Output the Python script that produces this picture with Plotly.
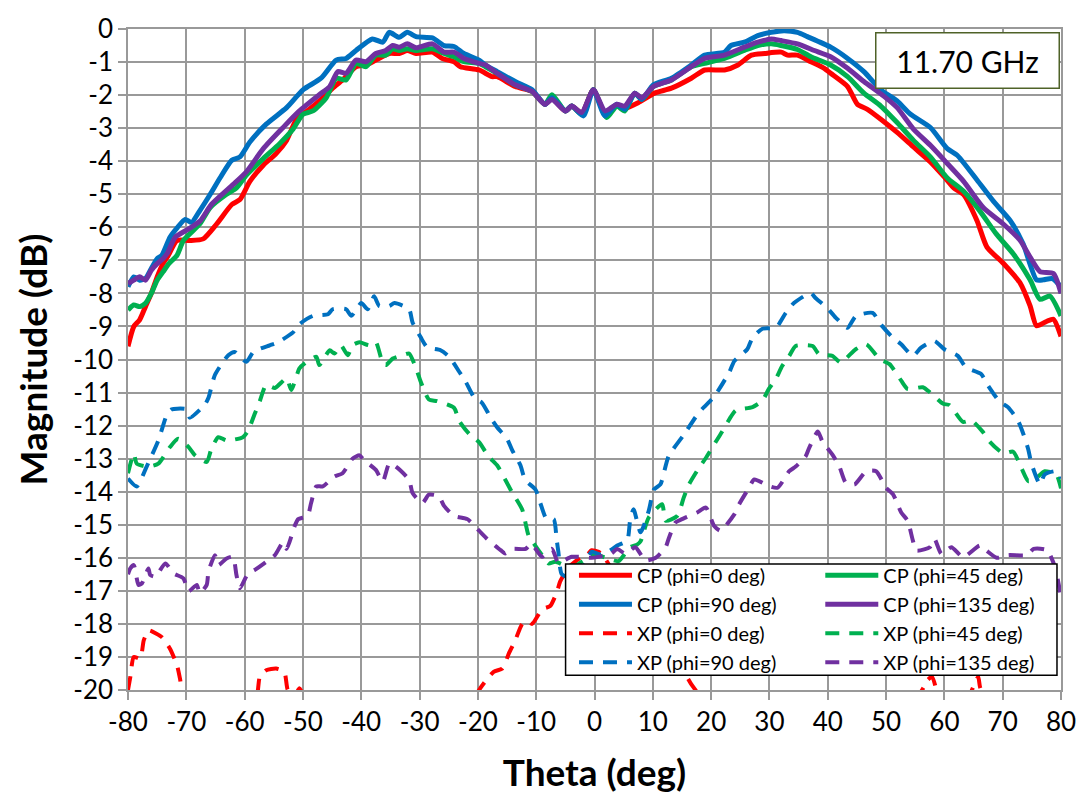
import plotly.graph_objects as go

# ---- measured radiation pattern cuts at 11.70 GHz (theta in deg, magnitude in dB) ----
cp0_theta = [-80, -79, -78, -77, -76, -75, -74, -73.1, -71.6, -69.4, -67.1, -64.8, -62.2, -60.8, -59.1,
             -56.8, -54.6, -52.8, -51.1, -48.9, -46.6, -44.9, -43.2, -40.9, -39.2, -37.5, -35.2, -33.5,
             -32.1, -30.6, -27.8, -26.1, -24.1, -23.0, -19.8, -17.6, -16.7, -13.6, -10.7, -8.5, -7.3,
             -5.0, -3.9, -2.2, -0.2, 1.8, 3.8, 5.2, 7.5, 10.3, 13.2, 16.6, 18.9, 22.3, 24.6, 26.9, 29.2,
             32.0, 33.1, 34.8, 37.1, 39.4, 40.5, 43.4, 45.1, 46.8, 49.1, 51.9, 54.7, 57.6, 59.9, 61.6,
             63.3, 65.6, 67.3, 70.1, 73.0, 74.7, 75.8, 77.5, 78.7, 80]
cp0_mag = [-9.6, -9.0, -8.8, -8.4, -8.0, -7.5, -7.1, -6.85, -6.4, -6.4, -6.35, -5.9, -5.31, -5.16, -4.61,
           -4.12, -3.77, -3.37, -2.73, -2.43, -2.08, -1.79, -1.54, -1.14, -1.09, -0.94, -0.74, -0.74,
           -0.65, -0.74, -0.70, -0.89, -0.99, -1.14, -1.24, -1.44, -1.44, -1.74, -1.89, -2.28, -2.10,
           -2.48, -2.33, -2.55, -1.84, -2.55, -2.30, -2.40, -2.23, -1.94, -1.79, -1.49, -1.24, -1.24,
           -1.09, -0.79, -0.74, -0.70, -0.79, -0.79, -0.99, -1.19, -1.34, -1.74, -2.28, -2.43, -2.73,
           -3.13, -3.57, -4.02, -4.46, -4.81, -5.01, -5.80, -6.60, -7.09, -7.69, -8.38, -8.98, -8.85,
           -8.78, -9.3]

cp45_theta = [-80, -79, -78, -77, -76, -75, -74, -73, -71.6, -70.5, -67.7, -65.9, -63.1, -61.4, -59.7,
              -56.8, -54.0, -51.7, -50.0, -48.3, -46.0, -44.3, -42.6, -40.9, -39.2, -37.5, -35.8, -34.6,
              -33.5, -32.1, -30.6, -27.8, -25.8, -24.1, -22.4, -19.8, -18.7, -16.7, -13.6, -10.7, -8.5,
              -7.3, -5.0, -3.9, -2.2, -0.2, 2.1, 3.8, 5.2, 6.9, 8.1, 10.1, 13.2, 16.6, 18.9, 22.3, 25.7,
              28.0, 30.3, 32.0, 34.8, 37.1, 40.5, 43.4, 46.2, 49.1, 51.9, 54.7, 57.6, 60.5, 63.3, 66.1,
              68.9, 71.8, 74.7, 76.4, 78.1, 80]
cp45_mag = [-8.5, -8.35, -8.4, -8.3, -8.0, -7.6, -7.35, -7.1, -6.85, -6.4, -5.9, -5.4, -5.0, -4.81, -4.42,
            -3.92, -3.47, -3.03, -2.58, -2.48, -2.08, -1.49, -1.54, -1.04, -1.14, -0.79, -0.79, -0.60,
            -0.65, -0.60, -0.65, -0.60, -0.74, -0.84, -0.99, -1.04, -1.14, -1.34, -1.69, -1.89, -2.28,
            -1.99, -2.48, -2.33, -2.58, -1.84, -2.68, -2.33, -2.48, -1.94, -2.13, -1.74, -1.54, -1.14,
            -1.04, -0.89, -0.65, -0.50, -0.45, -0.50, -0.62, -0.84, -1.09, -1.44, -1.94, -2.33, -2.83,
            -3.37, -3.87, -4.51, -4.91, -5.51, -6.20, -6.80, -7.59, -8.18, -8.08, -8.68]

cp90_theta = [-80, -79, -78, -77, -76, -75, -74.2, -72.8, -71.5, -70.2, -69.1, -67.7, -65.9, -64.2, -62.2,
              -60.8, -59.1, -56.3, -52.8, -50.0, -46.9, -44.3, -42.6, -40.9, -38.1, -36.3, -35.2, -33.5,
              -32.1, -30.6, -27.8, -25.8, -24.1, -22.4, -19.8, -18.7, -16.7, -13.6, -10.7, -8.5, -7.3,
              -5.0, -3.9, -1.9, -0.2, 1.8, 3.8, 5.2, 6.9, 8.1, 10.1, 13.2, 16.6, 18.9, 22.3, 23.4, 25.7,
              28.0, 30.3, 32.5, 34.8, 36.5, 40.5, 43.4, 46.2, 49.1, 51.9, 54.2, 57.6, 60.5, 62.2, 65.6,
              68.4, 71.3, 73.5, 75.8, 77.0, 78.5, 80]
cp90_mag = [-7.8, -7.5, -7.6, -7.55, -7.25, -6.95, -6.85, -6.3, -6.0, -5.76, -5.85, -5.5, -5.0, -4.5, -3.97,
            -3.87, -3.42, -2.88, -2.38, -1.84, -1.49, -0.94, -0.89, -0.65, -0.30, -0.40, -0.10, -0.25,
            -0.10, -0.23, -0.27, -0.50, -0.53, -0.74, -0.94, -1.09, -1.29, -1.59, -1.84, -2.28, -2.08,
            -2.48, -2.33, -2.63, -1.84, -2.63, -2.28, -2.43, -1.94, -2.13, -1.69, -1.49, -1.09, -0.79,
            -0.70, -0.50, -0.40, -0.20, -0.10, -0.05, -0.10, -0.23, -0.55, -0.89, -1.29, -1.84, -2.18,
            -2.58, -2.98, -3.62, -3.82, -4.57, -5.21, -5.80, -6.50, -7.59, -7.59, -7.55, -7.8]

cp135_theta = [-80, -79, -78, -77, -76, -75, -74, -73.3, -71.9, -69.6, -67.6, -65.7, -62.0, -59.7, -56.8,
               -53.4, -50.6, -47.2, -45.4, -44.0, -42.6, -40.9, -39.2, -37.5, -35.8, -34.6, -33.5, -32.1,
               -30.6, -27.8, -25.8, -24.1, -22.4, -19.8, -18.7, -16.7, -13.6, -10.7, -8.5, -7.3, -5.0,
               -3.9, -2.2, -0.2, 1.8, 3.8, 5.2, 6.9, 8.1, 10.1, 13.2, 16.6, 18.9, 22.3, 25.7, 28.0, 30.3,
               32.0, 34.8, 37.7, 40.5, 43.4, 46.2, 49.6, 51.9, 54.7, 57.6, 60.5, 63.3, 66.7, 70.1, 73.0,
               74.7, 76.4, 78.7, 80]
cp135_mag = [-7.7, -7.6, -7.5, -7.6, -7.3, -7.1, -6.95, -6.8, -6.3, -6.05, -5.8, -5.31, -4.71, -4.32, -3.62,
             -2.98, -2.48, -1.99, -1.74, -1.29, -1.34, -0.94, -0.99, -0.74, -0.65, -0.50, -0.55, -0.45,
             -0.57, -0.45, -0.70, -0.70, -0.89, -1.04, -1.09, -1.34, -1.69, -1.89, -2.28, -2.13, -2.48,
             -2.33, -2.53, -1.84, -2.48, -2.28, -2.33, -1.94, -2.08, -1.74, -1.54, -1.14, -0.89, -0.79,
             -0.55, -0.40, -0.30, -0.35, -0.45, -0.65, -0.84, -1.19, -1.59, -2.03, -2.38, -3.03, -3.52,
             -4.07, -4.61, -5.41, -5.90, -6.40, -6.90, -7.34, -7.40, -8.0]

xp0_theta = [-80, -79.6, -79.0, -77.9, -77.3, -76.5, -76.2, -74.2, -72.8, -71.6, -71.1, -70.5, -68, -65,
             -62, -61.1, -60, -58, -57.4, -56.3, -54.6, -53.7, -53.1, -52.6, -51.5, -50.6, -49.5, -45,
             -40, -35, -30, -25, -21, -19.8, -17.3, -15.8, -14.7, -13.6, -12.4, -11.6, -10.7, -9.0, -7.6,
             -6.4, -5.9, -4.5, -3.2, -2.2, -1.3, -0.5, 0.7, 1.8, 3.5, 5.5, 7.5, 9.5, 11.5, 13.5, 15.5,
             16.5, 17.5, 18.5, 20, 25, 30, 35, 40, 45, 50, 54, 55.5, 56.5, 57.1, 57.9, 58.8, 60, 62, 64,
             65.2, 65.8, 66.1, 67, 70, 75, 80]
xp0_mag = [-20.0, -19.6, -19.0, -19.05, -18.5, -18.2, -18.2, -18.4, -18.75, -19.25, -19.64, -20.2, -20.8,
           -21.0, -20.6, -20.0, -20.3, -20.2, -19.6, -19.4, -19.35, -19.4, -19.5, -20.0, -20.2, -19.95,
           -20.3, -21.0, -21.0, -21.0, -21.0, -21.0, -20.4, -20.0, -19.45, -19.35, -18.90, -18.50, -18.0,
           -17.91, -18.0, -17.56, -17.46, -17.01, -16.72, -16.3, -16.1, -15.97, -15.92, -15.77, -15.82,
           -16.02, -16.5, -17.0, -17.4, -17.9, -18.4, -18.9, -19.5, -19.8, -20.05, -20.4, -21.0, -21.0,
           -21.0, -21.0, -21.0, -21.0, -21.0, -20.6, -20.2, -19.9, -19.7, -19.6, -20.1, -20.5, -20.8,
           -20.3, -19.8, -19.6, -19.9, -20.3, -21.0, -21.0, -21.0]

xp45_theta = [-80, -79, -78.5, -76.5, -74.8, -72.8, -71.4, -69.6, -68.5, -66.5, -65.7, -64.5, -63.1, -60.3,
              -59.4, -58.3, -57.4, -56.3, -54.8, -52.8, -52.0, -50.6, -49.7, -47.7, -47.2, -45.4, -44.6,
              -43.5, -42.3, -41.5, -40.3, -38.6, -37.5, -36.3, -35.8, -34.6, -32.9, -31.8, -30.6, -29.8,
              -28.4, -27.0, -24.1, -23.2, -21.5, -19.8, -18.1, -16.7, -15.3, -14.2, -12.4, -11.3, -10.4,
              -9.0, -7.9, -6.7, -4, -2, 0, 2, 4.1, 6.1, 7.3, 7.9, 8.5, 9.3, 11.6, 12.2, 14.2, 15.3, 16.2,
              17.9, 19.1, 20.8, 21.9, 23.4, 24.2, 27.1, 28.8, 29.9, 31.1, 32.2, 33.4, 34.5, 37.4, 38.5,
              40.8, 42.2, 44.8, 46.6, 48.9, 50.6, 52.6, 53.7, 56.3, 57.5, 59.8, 60.9, 63.2, 64.6, 66.6,
              67.8, 70.1, 71.8, 73.2, 74.4, 75.8, 77.2, 79.2, 80]
xp45_mag = [-13.44, -12.85, -13.15, -13.24, -13.15, -12.65, -12.40, -12.65, -12.90, -13.10, -12.70, -12.35,
            -12.45, -12.35, -12.15, -11.66, -11.26, -10.77, -10.86, -10.57, -10.92, -10.27, -10.12, -9.92,
            -10.17, -9.72, -9.82, -9.57, -9.87, -9.57, -9.48, -9.57, -9.48, -10.12, -10.17, -9.97, -9.87,
            -9.82, -10.27, -10.67, -11.21, -11.26, -11.46, -11.86, -12.25, -12.50, -12.95, -13.20, -13.64,
            -14.0, -14.54, -15.33, -15.57, -15.92, -16.17, -16.12, -16.3, -16.1, -15.9, -16.0, -16.1,
            -15.68, -15.6, -15.5, -15.18, -14.78, -14.38, -14.88, -14.73, -14.18, -13.78, -13.28, -12.98,
            -12.49, -12.18, -11.73, -11.54, -11.44, -11.24, -10.89, -10.59, -10.19, -9.89, -9.59, -9.59,
            -9.84, -9.89, -10.09, -9.69, -9.54, -9.99, -10.14, -10.64, -10.89, -10.84, -10.99, -11.34,
            -11.38, -11.89, -11.84, -12.19, -12.49, -12.84, -12.79, -13.28, -13.68, -13.58, -13.38, -13.48,
            -13.9]

xp90_theta = [-80, -78.5, -76.8, -74.8, -73.3, -72.5, -69.9, -69.4, -66.8, -66.2, -65.1, -62.8, -61.7, -59.7,
              -58.5, -55.7, -54.3, -51.7, -50.6, -48.3, -45.7, -44.9, -42.6, -41.7, -40.0, -38.9, -37.8,
              -36.9, -35.2, -34.3, -31.8, -31.2, -29.8, -28.7, -26.4, -24.9, -23.2, -22.1, -20.6, -19.3,
              -17.8, -16.7, -15.0, -14.1, -12.7, -11.9, -10.1, -9.3, -8.2, -7.0, -6.5, -6.2, -5.6, -4, -2,
              -0.5, 1, 2.5, 3.9, 5.6, 6.1, 6.7, 7.9, 9.3, 10.2, 11.3, 12.7, 15.3, 17.6, 18.5, 20.2, 21.4,
              23.1, 24.0, 26.2, 27.1, 28.8, 31.1, 32.8, 34.2, 37.1, 37.9, 39.9, 41.4, 43.4, 44.8, 47.7,
              49.1, 50.9, 52.6, 54.6, 56.0, 58.3, 60.0, 62.3, 63.7, 66.3, 67.5, 69.5, 70.9, 72.6, 73.5,
              74.4, 74.9, 76.4, 77.2, 79.2, 80]
xp90_mag = [-13.6, -13.84, -13.24, -12.45, -11.66, -11.51, -11.51, -11.76, -11.36, -11.16, -10.47, -9.87,
            -9.77, -10.07, -9.77, -9.57, -9.48, -9.18, -8.93, -8.68, -8.63, -8.48, -8.48, -8.68, -8.29,
            -8.48, -8.09, -8.38, -8.38, -8.29, -8.48, -8.88, -9.33, -9.63, -9.72, -9.92, -10.37, -10.67,
            -11.16, -11.31, -11.76, -12.05, -12.40, -12.75, -13.20, -13.64, -13.94, -14.34, -14.83, -14.83,
            -15.43, -15.82, -16.5, -16.6, -16.3, -15.82, -15.9, -15.8, -15.63, -15.48, -14.88, -14.53,
            -15.23, -14.58, -13.93, -13.78, -12.93, -12.28, -11.68, -11.49, -11.19, -10.89, -10.39, -10.04,
            -9.69, -9.34, -9.07, -9.04, -8.59, -8.29, -7.99, -8.14, -8.44, -8.74, -9.04, -8.69, -8.59,
            -8.94, -9.29, -9.54, -9.89, -9.64, -9.44, -9.69, -9.89, -10.24, -10.44, -10.79, -11.28, -11.44,
            -11.84, -12.23, -12.73, -13.13, -13.78, -13.48, -13.38, -13.6]

xp135_theta = [-80, -79.6, -79.0, -78.2, -77.6, -76.5, -76.2, -75.3, -73.6, -72.2, -70.5, -69.6, -68.2,
               -67.7, -66.5, -66.2, -65.1, -64.5, -63.1, -62.0, -61.4, -60.8, -59.4, -58.3, -56.3, -54.8,
               -53.4, -52.8, -51.4, -50.8, -49.2, -48.6, -47.7, -46.6, -44.6, -43.2, -41.5, -40.3, -39.5,
               -37.5, -36.3, -35.2, -34.1, -31.8, -31.2, -29.5, -28.4, -26.7, -25.8, -24.1, -21.8, -19.8,
               -18.4, -16.1, -15.3, -14.1, -11.8, -10.9, -10.1, -9.0, -7.3, -6.2, -3.9, -0.5, 0.4, 2.9,
               3.9, 5.3, 7.0, 8.7, 10.5, 12.2, 12.7, 13.9, 15.0, 17.6, 19.1, 20.5, 21.6, 24.0, 24.8, 26.5,
               27.4, 29.9, 31.4, 33.4, 34.5, 36.2, 36.8, 38.3, 39.1, 40.8, 42.0, 43.1, 44.6, 46.6, 48.3,
               50.0, 51.2, 52.6, 53.7, 54.6, 55.2, 57.5, 58.3, 59.5, 61.2, 63.2, 66.1, 67.2, 69, 71.0,
               74.2, 75.3, 77.6, 79, 80]
xp135_mag = [-16.5, -16.32, -16.22, -16.82, -16.77, -16.32, -16.52, -16.57, -16.17, -16.47, -16.62, -17.01,
             -16.82, -17.07, -16.82, -16.42, -15.92, -16.22, -16.02, -15.97, -16.52, -16.92, -16.47, -16.37,
             -16.12, -15.92, -15.53, -15.73, -15.03, -14.83, -14.73, -14.34, -13.84, -13.84, -13.54, -13.44,
             -13.0, -12.90, -13.05, -13.34, -13.69, -13.15, -13.24, -13.64, -14.04, -14.34, -14.09, -14.14,
             -14.43, -14.73, -14.83, -15.18, -15.43, -15.77, -15.87, -15.73, -15.73, -15.57, -15.73, -15.97,
             -15.73, -16.15, -15.97, -16.0, -15.98, -15.87, -15.73, -15.88, -15.68, -16.08, -16.0, -15.68,
             -15.43, -14.93, -14.83, -14.63, -14.48, -15.03, -15.18, -14.68, -14.38, -13.88, -13.63, -13.83,
             -13.88, -13.38, -13.24, -12.93, -12.68, -12.18, -12.49, -12.88, -13.24, -13.73, -13.78, -13.38,
             -13.38, -13.88, -14.08, -14.63, -14.88, -15.48, -15.78, -15.68, -15.43, -15.88, -15.68, -15.98,
             -15.63, -15.78, -16.0, -15.92, -15.92, -15.73, -15.77, -16.3, -17.2]

x_tick_labels = ["-80", "-70", "-60", "-50", "-40", "-30", "-20", "-10", "0",
                 "10", "20", "30", "40", "50", "60", "70", "80"]
y_tick_labels = ["0", "-1", "-2", "-3", "-4", "-5", "-6", "-7", "-8", "-9", "-10",
                 "-11", "-12", "-13", "-14", "-15", "-16", "-17", "-18", "-19", "-20"]

RED, GREEN, BLUE, PURPLE = "#FF0000", "#00B050", "#0070C0", "#7030A0"
DASH = "14px,10px"

series = [
    ("CP (phi=0 deg)", cp0_theta, cp0_mag, RED, "solid", "legend"),
    ("CP (phi=45 deg)", cp45_theta, cp45_mag, GREEN, "solid", "legend2"),
    ("CP (phi=90 deg)", cp90_theta, cp90_mag, BLUE, "solid", "legend"),
    ("CP (phi=135 deg)", cp135_theta, cp135_mag, PURPLE, "solid", "legend2"),
    ("XP (phi=0 deg)", xp0_theta, xp0_mag, RED, DASH, "legend"),
    ("XP (phi=45 deg)", xp45_theta, xp45_mag, GREEN, DASH, "legend2"),
    ("XP (phi=90 deg)", xp90_theta, xp90_mag, BLUE, DASH, "legend"),
    ("XP (phi=135 deg)", xp135_theta, xp135_mag, PURPLE, DASH, "legend2"),
]

fig = go.Figure()
for name, th, mag, color, dash, leg in series:
    fig.add_trace(go.Scatter(
        x=th, y=mag, name=name, mode="lines", legend=leg,
        line=dict(color=color, width=5 if dash == "solid" else 4, dash=dash, shape="spline", smoothing=0.6),
    ))

GRID = "#999999"
FONT = "Lato, Roboto, sans-serif"

axis_common = dict(
    showgrid=True, gridcolor=GRID, gridwidth=1.5,
    showline=True, linecolor=GRID, linewidth=1.5, mirror=True,
    ticks="outside", ticklen=8, tickwidth=1.5, tickcolor=GRID,
    zeroline=False, tickfont=dict(family=FONT, size=26, color="black"),
)

fig.update_layout(
    width=1088, height=803,
    margin=dict(l=128, r=24, t=18, b=113),
    paper_bgcolor="white", plot_bgcolor="white",
    font=dict(family=FONT, color="black"),
    xaxis=dict(
        range=[-80, 80],
        tickvals=[int(t) for t in x_tick_labels], ticktext=x_tick_labels,
        title=dict(text="<b>Theta (deg)</b>", font=dict(family=FONT, size=37), standoff=24),
        **axis_common,
    ),
    yaxis=dict(
        range=[-20, 0],
        tickvals=[int(t) for t in y_tick_labels], ticktext=y_tick_labels,
        title=dict(text="<b>Magnitude (dB)</b>", font=dict(family=FONT, size=37), standoff=14),
        **axis_common,
    ),
    legend=dict(
        x=0.478, y=0.203, xanchor="left", yanchor="top",
        bgcolor="rgba(0,0,0,0)", borderwidth=0, itemwidth=53,
        font=dict(family=FONT, size=20, color="black"), tracegroupgap=0,
    ),
    legend2=dict(
        x=0.742, y=0.203, xanchor="left", yanchor="top",
        bgcolor="rgba(0,0,0,0)", borderwidth=0, itemwidth=53,
        font=dict(family=FONT, size=20, color="black"), tracegroupgap=0,
    ),
    shapes=[dict(
        type="rect", xref="paper", yref="paper", layer="above",
        x0=0.469, x1=0.9957, y0=0.0223, y1=0.1905,
        fillcolor="white", line=dict(color="black", width=1.5),
    )],
    annotations=[dict(
        text="11.70 GHz", xref="paper", yref="paper", x=0.8996, y=0.9516,
        xanchor="center", yanchor="middle", showarrow=False,
        font=dict(family=FONT, size=30, color="black"),
        bgcolor="white", bordercolor="#4F6228", borderwidth=1.5, borderpad=1,
        width=180, height=52,
    )],
)

fig.write_html("out.html")
